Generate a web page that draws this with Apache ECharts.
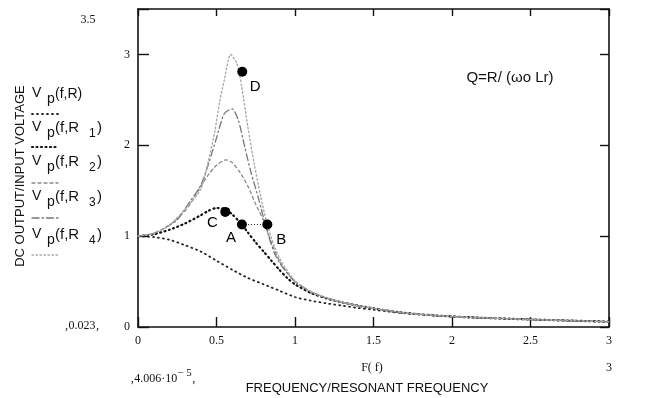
<!DOCTYPE html>
<html>
<head>
<meta charset="utf-8">
<script src="https://cdn.jsdelivr.net/npm/echarts@6/dist/echarts.min.js"></script>
<style>
html,body{margin:0;padding:0;background:#fff;}
#c{width:646px;height:398px;}
</style>
</head>
<body>
<div id="c"></div>
<script>
// ---- data ----
const xTicks = [0, 0.5, 1, 1.5, 2, 2.5, 3];
const yTicks = [0, 1, 2, 3];

const fR  = [0, 0.1, 0.2, 0.3, 0.4, 0.5, 0.6, 0.7, 0.8, 0.9, 1.0, 1.1, 1.2, 1.3, 1.4, 1.5, 1.7, 2.0, 2.5, 3.0, 3.15];
const vR  = [1.0, 0.99, 0.96, 0.9, 0.83, 0.73, 0.63, 0.54, 0.47, 0.4, 0.33, 0.29, 0.26, 0.235, 0.21, 0.19, 0.15, 0.115, 0.083, 0.058, 0.052];

const fR1 = [0, 0.1, 0.2, 0.3, 0.4, 0.45, 0.5, 0.55, 0.6, 0.66, 0.7, 0.75, 0.8, 0.85, 0.9, 0.95, 1.0, 1.1, 1.2, 1.3, 1.5, 1.7, 2.0, 2.5, 3.0];
const vR1 = [1.0, 1.02, 1.07, 1.14, 1.23, 1.28, 1.31, 1.3, 1.24, 1.13, 1.04, 0.93, 0.83, 0.73, 0.63, 0.54, 0.47, 0.375, 0.315, 0.27, 0.205, 0.155, 0.115, 0.083, 0.058];

const fR2 = [0, 0.1, 0.2, 0.3, 0.35, 0.4, 0.45, 0.5, 0.56, 0.6, 0.65, 0.7, 0.75, 0.8, 0.85, 0.9, 0.95, 1.0, 1.1, 1.2, 1.3, 1.5, 1.7, 2.0, 2.5, 3.0];
const vR2 = [1.0, 1.03, 1.12, 1.28, 1.4, 1.55, 1.68, 1.78, 1.84, 1.81, 1.7, 1.55, 1.35, 1.17, 0.93, 0.73, 0.6, 0.5, 0.39, 0.32, 0.27, 0.205, 0.155, 0.115, 0.083, 0.058];

const fR3 = [0, 0.1, 0.2, 0.25, 0.33, 0.4, 0.45, 0.5, 0.55, 0.6, 0.64, 0.68, 0.72, 0.77, 0.82, 0.87, 0.92, 1.0, 1.1, 1.2, 1.3, 1.5, 1.7, 2.0, 2.5, 3.0];
const vR3 = [1.0, 1.03, 1.12, 1.18, 1.38, 1.56, 1.8, 2.08, 2.35, 2.4, 2.27, 1.98, 1.7, 1.4, 1.07, 0.81, 0.66, 0.5, 0.39, 0.32, 0.27, 0.205, 0.155, 0.115, 0.083, 0.058];

const fR4 = [0, 0.1, 0.2, 0.3, 0.4, 0.45, 0.49, 0.52, 0.55, 0.59, 0.63, 0.66, 0.7, 0.74, 0.78, 0.82, 0.87, 0.92, 1.0, 1.1, 1.2, 1.3, 1.5, 1.7, 2.0, 2.5, 3.0];
const vR4 = [1.0, 1.03, 1.12, 1.3, 1.52, 1.84, 2.16, 2.48, 2.72, 3.0, 2.9, 2.65, 2.2, 1.8, 1.45, 1.15, 0.88, 0.7, 0.51, 0.39, 0.32, 0.27, 0.205, 0.155, 0.115, 0.083, 0.058];

const pointNames = ['C', 'A', 'B', 'D'];
const pointF = [0.556, 0.662, 0.824, 0.664];
const pointV = [1.267, 1.128, 1.128, 2.81];

// ---- build ----
const zip = (a, b) => a.map((x, i) => [x, b[i]]);
const serif = 'Liberation Serif';
const sans = 'Liberation Sans';

const styles = [
  {color: '#222', width: 1.8, type: [1, 4]},
  {color: '#111', width: 2.2, type: [1, 3.5]},
  {color: '#888', width: 1.3, type: [3, 3]},
  {color: '#777', width: 1.3, type: [7, 3, 1.5, 3]},
  {color: '#aaa', width: 1.4, type: [1.5, 2.5]}
];
const curves = [zip(fR, vR), zip(fR1, vR1), zip(fR2, vR2), zip(fR3, vR3), zip(fR4, vR4)];

const series = curves.map((d, i) => ({
  type: 'line', data: d, showSymbol: false, smooth: 0.25, clip: false,
  lineStyle: {color: styles[i].color, width: styles[i].width, type: styles[i].type, cap: 'round'},
  z: 2, silent: true
}));

const labelOffsets = {C: [-13, 11], A: [-11, 13], B: [14, 15], D: [13, 15]};
series.push({
  type: 'line',
  data: [[pointF[1], pointV[1]], [pointF[2], pointV[2]]],
  showSymbol: false,
  lineStyle: {color: '#222', width: 1.2, type: [1, 2]},
  z: 3
});
series.push({
  type: 'scatter',
  data: pointNames.map((n, i) => ({value: [pointF[i], pointV[i]], name: n,
    label: {show: true, formatter: n, position: 'inside', offset: labelOffsets[n],
      color: '#000', fontFamily: sans, fontSize: 15}})),
  symbolSize: 10,
  itemStyle: {color: '#000', opacity: 1},
  z: 5
});

const legendRows = [
  {y: 95, sub: '', sample: 114},
  {y: 129, sub: '1', sample: 147},
  {y: 163, sub: '2', sample: 183},
  {y: 198, sub: '3', sample: 218},
  {y: 236, sub: '4', sample: 255}
];
const graphics = [];
const tf = '14px ' + sans;
legendRows.forEach((r, i) => {
  graphics.push({type: 'text', left: 32, top: r.y - 9, style: {text: 'V', font: tf, fill: '#111'}});
  graphics.push({type: 'text', left: 47, top: r.y - 3, style: {text: 'p', font: tf, fill: '#111'}});
  if (r.sub === '') {
    graphics.push({type: 'text', left: 55, top: r.y - 8, style: {text: '(f,R)', font: tf, fill: '#111'}});
  } else {
    graphics.push({type: 'text', left: 55, top: r.y - 9, style: {text: '(f,R', font: '15px ' + sans, fill: '#111'}});
    graphics.push({type: 'text', left: 89, top: r.y - 1, style: {text: r.sub, font: '12px ' + sans, fill: '#111'}});
    graphics.push({type: 'text', left: 97, top: r.y - 9, style: {text: ')', font: '15px ' + sans, fill: '#111'}});
  }
  graphics.push({type: 'line', shape: {x1: 32, y1: r.sample, x2: 58, y2: r.sample},
    style: {stroke: styles[i].color, lineWidth: styles[i].width, lineDash: styles[i].type, lineCap: 'round'}});
});
graphics.push(
  {type: 'text', x: 20, y: 176, rotation: Math.PI / 2,
    style: {text: 'DC OUTPUT/INPUT VOLTAGE', font: '13px ' + sans, fill: '#111', textAlign: 'center', textVerticalAlign: 'middle'}},
  {type: 'text', x: 88, y: 20, style: {text: '3.5', font: '12px ' + serif, fill: '#111', textAlign: 'center', textVerticalAlign: 'middle'}},
  {type: 'text', x: 82, y: 326, style: {text: '\u201A0.023\u201A', font: '12px ' + serif, fill: '#111', textAlign: 'center', textVerticalAlign: 'middle'}},
  {type: 'text', x: 163, y: 376, style: {
    text: '{a|\u201A4.006\u00B710}{s|\u2212 5}{a|\u201A}', textAlign: 'center', textVerticalAlign: 'middle',
    rich: {a: {font: '12px ' + serif, fill: '#111', padding: [6, 0, 0, 0]}, s: {font: '11px ' + serif, fill: '#111', padding: [0, 0, 6, 0]}}}},
  {type: 'text', x: 372, y: 368, style: {text: 'F( f)', font: '12px ' + serif, fill: '#111', textAlign: 'center', textVerticalAlign: 'middle'}},
  {type: 'text', x: 609, y: 368, style: {text: '3', font: '12px ' + serif, fill: '#111', textAlign: 'center', textVerticalAlign: 'middle'}},
  {type: 'text', x: 367, y: 388, style: {text: 'FREQUENCY/RESONANT FREQUENCY', font: '13px ' + sans, fill: '#111', textAlign: 'center', textVerticalAlign: 'middle'}},
  {type: 'text', x: 510, y: 78, style: {text: 'Q=R/ (\u03C9o Lr)', font: '15px ' + sans, fill: '#111', textAlign: 'center', textVerticalAlign: 'middle'}}
);

const axisLine = {show: true, onZero: false, lineStyle: {color: '#111', width: 1.6}};
const chart = echarts.init(document.getElementById('c'), null, {renderer: 'canvas'});
chart.setOption({
  animation: false,
  backgroundColor: '#fff',
  grid: {left: 138, right: 37, top: 9, bottom: 71, show: false},
  xAxis: [
    {type: 'value', min: 0, max: 3, interval: 0.5, position: 'bottom',
      axisLine: axisLine, axisTick: {inside: true, length: 10, lineStyle: {color: '#111', width: 1.4}},
      axisLabel: {margin: 8, color: '#111', fontFamily: serif, fontSize: 12,
        formatter: v => xTicks.includes(v) ? String(v) : ''},
      splitLine: {show: false}},
    {type: 'value', min: 0, max: 3, interval: 0.5, position: 'top',
      axisLine: axisLine, axisTick: {inside: true, length: 7, lineStyle: {color: '#111', width: 1.4}},
      axisLabel: {show: false}, splitLine: {show: false}}
  ],
  yAxis: [
    {type: 'value', min: 0, max: 3.5, interval: 1, position: 'left',
      axisLine: axisLine, axisTick: {inside: true, length: 11, lineStyle: {color: '#111', width: 1.4}},
      axisLabel: {margin: 8, color: '#111', fontFamily: serif, fontSize: 12, padding: [8, 0, 0, 0],
        formatter: v => yTicks.includes(v) ? String(v) : ''},
      splitLine: {show: false}},
    {type: 'value', min: 0, max: 3.5, interval: 1, position: 'right',
      axisLine: axisLine, axisTick: {inside: true, length: 9, lineStyle: {color: '#111', width: 1.4}},
      axisLabel: {show: false}, splitLine: {show: false}}
  ],
  series: series,
  graphic: graphics
});
</script>
</body>
</html>
